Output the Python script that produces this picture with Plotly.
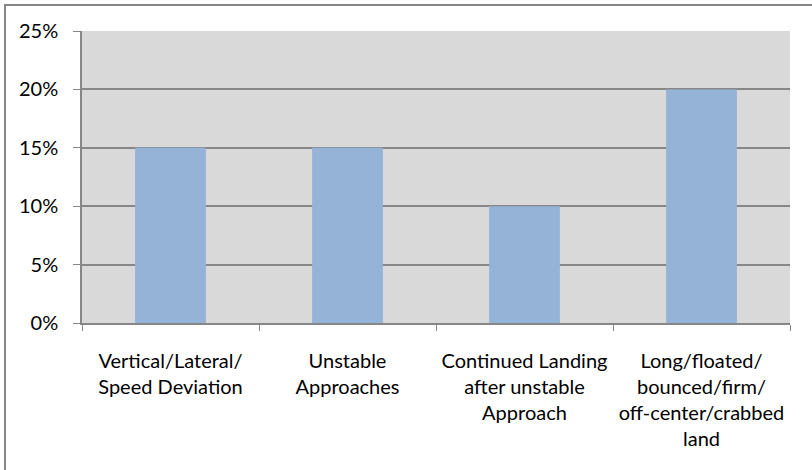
import plotly.graph_objects as go

categories = [
    "Vertical/Lateral/<br>Speed Deviation",
    "Unstable<br>Approaches",
    "Continued Landing<br>after unstable<br>Approach",
    "Long/floated/<br>bounced/firm/<br>off-center/crabbed<br>land",
]
values = [0.15, 0.15, 0.10, 0.20]

FONT = "Lato"
GRID = "#878787"

fig = go.Figure(
    go.Bar(x=categories, y=values, marker=dict(color="#95b3d7", line=dict(width=0)), width=0.4)
)

fig.update_layout(
    width=812,
    height=470,
    margin=dict(l=82, r=22, t=31, b=146.5),
    paper_bgcolor="white",
    plot_bgcolor="#d9d9d9",
    font=dict(family=FONT, size=20, color="black"),
    showlegend=False,
    bargap=0.6,
)
fig.update_yaxes(
    range=[0, 0.25],
    dtick=0.05,
    tickformat=".0%",
    showgrid=True,
    gridcolor=GRID,
    gridwidth=1.5,
    showline=True,
    linecolor=GRID,
    linewidth=1.5,
    ticks="outside",
    ticklen=7,
    tickcolor=GRID,
    zeroline=False,
    ticklabelstandoff=11,
)
fig.update_xaxes(
    showline=True,
    linecolor=GRID,
    linewidth=1.5,
    ticks="outside",
    tickson="boundaries",
    ticklen=6,
    tickcolor=GRID,
    showgrid=False,
    ticklabelstandoff=19,
)
# outer chart border (right and bottom edges fall outside the picture)
fig.add_shape(
    type="rect", xref="paper", yref="paper",
    x0=(5 - 82) / 708, x1=(830 - 82) / 708,
    y0=-1.0, y1=(323.5 - 5) / 292.5,
    line=dict(color="#868686", width=2), fillcolor="rgba(0,0,0,0)", layer="below",
)

fig.write_html(
    "out.html",
    config={"displayModeBar": False},
    post_script="document.body.style.margin='0';document.body.style.padding='0';",
)
